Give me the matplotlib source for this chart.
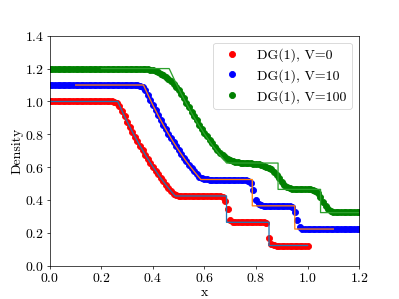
import numpy as np
import matplotlib
matplotlib.use('Agg')
from matplotlib import pyplot as pl

pl.rcParams['font.family'] = 'serif'
pl.rcParams['font.serif'] = ['cmr10']
pl.rcParams['font.size'] = 16
pl.rcParams['mathtext.fontset'] = 'cm'
pl.rcParams['axes.formatter.use_mathtext'] = True

# DG(1) solutions, sampled every 0.01 in x
x_v0 = np.linspace(0.0, 1.0, 101)
rho_v0 = ([1.000] * 25
          + [0.998, 0.992, 0.974, 0.942, 0.909]
          + [0.877, 0.846, 0.816, 0.786, 0.758, 0.730, 0.703, 0.677, 0.651, 0.627]
          + [0.603, 0.580, 0.557, 0.536, 0.515, 0.494, 0.475, 0.456, 0.440, 0.430]
          + [0.427] + [0.426] * 15
          + [0.425, 0.418, 0.395, 0.345]
          + [0.280, 0.268] + [0.266] * 12
          + [0.262, 0.170, 0.132, 0.126] + [0.125] * 13)

x_v10 = np.linspace(0.0, 1.2, 121)
rho_v10 = ([1.100] * 34
           + [1.099, 1.096, 1.088, 1.071, 1.042, 1.010]
           + [0.977, 0.946, 0.916, 0.886, 0.858, 0.830, 0.803, 0.777, 0.751, 0.727]
           + [0.703, 0.680, 0.658, 0.637, 0.616, 0.596, 0.577, 0.559, 0.543, 0.533]
           + [0.529, 0.527] + [0.526] * 13
           + [0.525, 0.523, 0.518, 0.505, 0.460]
           + [0.400, 0.376, 0.369] + [0.366] * 10
           + [0.365, 0.358, 0.330, 0.280, 0.235, 0.227] + [0.225] * 22)

x_v100 = np.linspace(0.0, 1.2, 121)
rho_v100 = ([1.200] * 36
            + [1.199, 1.198, 1.196, 1.193]
            + [1.189, 1.184, 1.177, 1.169, 1.160, 1.150, 1.138, 1.124, 1.107, 1.088]
            + [1.068, 1.046, 1.020, 0.993, 0.965, 0.938, 0.911, 0.885, 0.860, 0.835]
            + [0.811, 0.788, 0.766, 0.745, 0.725, 0.706, 0.689, 0.673, 0.660, 0.650]
            + [0.642, 0.636, 0.632, 0.630, 0.628, 0.627, 0.626, 0.625, 0.624, 0.622]
            + [0.620, 0.618, 0.615, 0.611, 0.605, 0.597, 0.587, 0.574, 0.556, 0.535]
            + [0.513, 0.494, 0.481, 0.473, 0.469, 0.467] + [0.466] * 6
            + [0.462, 0.455, 0.441, 0.420, 0.392, 0.364, 0.345, 0.335]
            + [0.330, 0.328, 0.327] + [0.326] * 8)

# exact solutions
ex_x_v0 = [0.0, 0.263, 0.28, 0.30, 0.325, 0.35, 0.375, 0.40, 0.425, 0.45, 0.475, 0.486,
           0.6855, 0.6855, 0.8504, 0.8504, 1.0]
ex_rho_v0 = [1.0, 1.0, 0.943, 0.877, 0.801, 0.730, 0.664, 0.603, 0.546, 0.494, 0.446, 0.426,
             0.426, 0.266, 0.266, 0.125, 0.125]
ex_x_v10 = [0.1, 0.363, 0.38, 0.40, 0.425, 0.45, 0.475, 0.50, 0.525, 0.55, 0.575, 0.586,
            0.7855, 0.7855, 0.9504, 0.9504, 1.1]
ex_rho_v10 = [1.1, 1.1, 1.043, 0.977, 0.901, 0.830, 0.764, 0.703, 0.646, 0.594, 0.546, 0.526,
              0.526, 0.366, 0.366, 0.225, 0.225]
ex_x_v100 = [0.2, 0.463, 0.48, 0.50, 0.525, 0.55, 0.575, 0.60, 0.625, 0.65, 0.675, 0.686,
             0.8855, 0.8855, 1.0504, 1.0504, 1.2]
ex_rho_v100 = [1.2, 1.2, 1.143, 1.077, 1.001, 0.930, 0.864, 0.803, 0.746, 0.694, 0.646, 0.626,
               0.626, 0.466, 0.466, 0.325, 0.325]

labels = ['DG(1), V=0', 'DG(1), V=10', 'DG(1), V=100']

fig, ax = pl.subplots(figsize=(6.4, 4.8), dpi=399/6.4)

ms = 7
ax.plot(x_v0, rho_v0, 'ro', ms=ms, label=labels[0])
ax.plot(ex_x_v0, ex_rho_v0, color='tab:blue')
ax.plot(x_v10, rho_v10, 'bo', ms=ms, label=labels[1])
ax.plot(ex_x_v10, ex_rho_v10, color='tab:orange')
ax.plot(x_v100, rho_v100, 'go', ms=ms, label=labels[2])
ax.plot(ex_x_v100, ex_rho_v100, color='tab:green')

ax.set_xlim(0, 1.2)
ax.set_ylim(0, 1.4)
ax.set_xlabel('x', labelpad=1.5)
ax.set_ylabel('Density', labelpad=1)
ax.legend(loc='upper right')

fig.savefig('out.png')
